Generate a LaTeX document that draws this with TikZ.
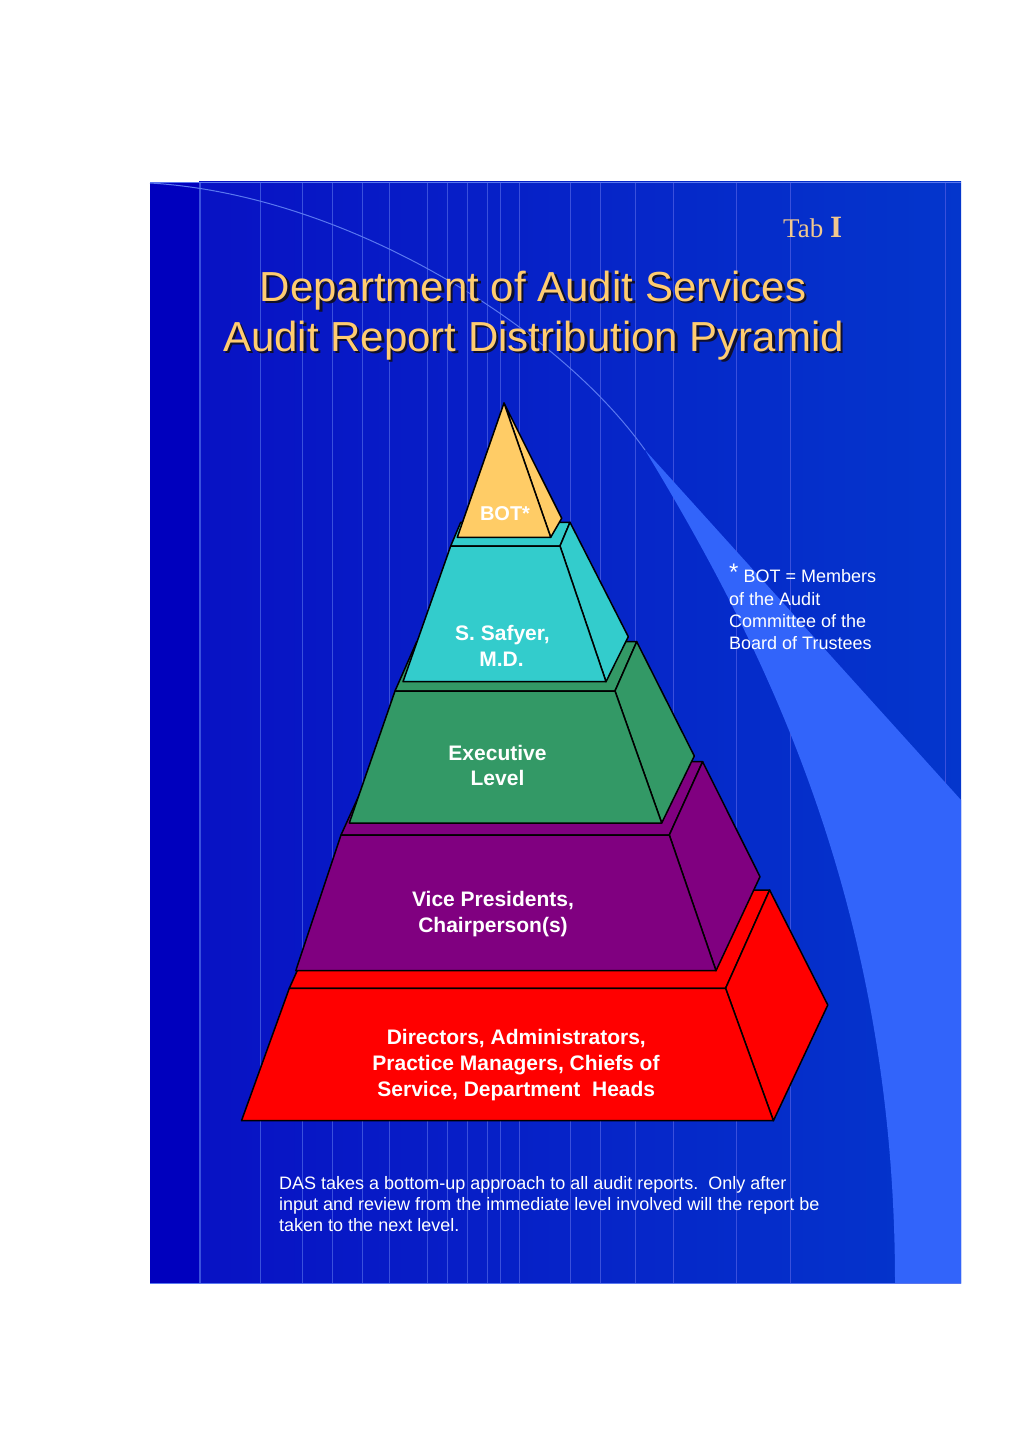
\documentclass[tikz,border=0pt]{standalone}
\usepackage{fontspec}
\setmainfont{Liberation Sans}
\newfontfamily\seriffont{Liberation Serif}
\definecolor{bgA}{HTML}{0812C4}
\definecolor{bgB}{HTML}{0436CC}
\definecolor{bgStrip}{HTML}{0000BE}
\definecolor{vl}{HTML}{3A50DC}
\definecolor{swc}{HTML}{3264FA}
\definecolor{swline}{HTML}{5A78F0}
\definecolor{titlec}{HTML}{FFCC70}
\definecolor{shadowc}{HTML}{10102C}
\definecolor{tabc}{HTML}{F2C88E}
\definecolor{orangec}{HTML}{FFCC66}
\definecolor{tealc}{HTML}{33CCCC}
\definecolor{greenc}{HTML}{339966}
\definecolor{purplec}{HTML}{800080}
\definecolor{redc}{HTML}{FF0000}
\tikzset{
  face/.style={draw=black, line width=1.5pt, line join=round},
  lbl/.style={text=white, font=\bfseries\fontsize{21}{25}\selectfont, anchor=base, inner sep=0pt},
  titletext/.style={font=\fontsize{42}{50}\selectfont, anchor=base, inner sep=0pt},
  note/.style={text=white, font=\fontsize{18}{21}\selectfont, anchor=base west, inner sep=0pt},
  vline/.style={draw=vl, line width=0.8pt}
}
\begin{document}
\begin{tikzpicture}[x=1pt,y=-1pt]
\useasboundingbox (0,0) rectangle (1024,1450);
\fill[white] (0,0) rectangle (1024,1450);
% background panel
\shade[left color=bgA, right color=bgB] (199,182) rectangle (961,1283);
\fill[bgStrip] (150,182) rectangle (199,1283);
\foreach \x in {260,302,332,362,389,427,447,467,487,500,519,570,600,635,673,736,790,945}
  \draw[vline] (\x,183) -- (\x,1283);
\draw[draw=vl, line width=2pt] (199.5,183) -- (199.5,1283);
% swoosh
\fill[swc] (645,450) -- (961,800) -- (961,1283) -- (895,1283)
  .. controls (895,900) and (760,640) .. (645,450) -- cycle;
\draw[swline, line width=1pt] (150,183) .. controls (350,195) and (560,330) .. (645,450);
\draw[swline, line width=1pt] (150,182.5) -- (961,182.5);
\draw[swline, line width=1pt] (150,1283) -- (961,1283);

% Tab I
\node[anchor=base west, inner sep=0pt, text=tabc, font=\seriffont\fontsize{27}{30}\selectfont] (tab) at (783,237) {Tab {\fontsize{31}{34}\selectfont\bfseries I}};

% title
\node[titletext, text=shadowc] (t1s) at (535.5,303.5) {Department of Audit Services};
\node[titletext, text=titlec] (t1) at (533,301) {Department of Audit Services};
\node[titletext, text=shadowc] (t2s) at (536,353.5) {Audit Report Distribution Pyramid};
\node[titletext, text=titlec] (t2) at (533.5,351) {Audit Report Distribution Pyramid};

% ---------- pyramid (bottom to top) ----------
% red
\filldraw[face, fill=redc] (289.3,988.3) -- (725.6,988.3) -- (769.6,890) -- (333.3,890) -- cycle;
\filldraw[face, fill=redc] (725.6,988.3) -- (769.6,890) -- (827.8,1005) -- (773.4,1120.7) -- cycle;
\filldraw[face, fill=redc] (289.3,988.3) -- (725.6,988.3) -- (773.4,1120.7) -- (241.5,1120.7) -- cycle;
% purple
\filldraw[face, fill=purplec] (341,835) -- (669.3,835) -- (702.6,761.7) -- (374.3,761.7) -- cycle;
\filldraw[face, fill=purplec] (669.3,835) -- (702.6,761.7) -- (760,876.7) -- (716,970.7) -- cycle;
\filldraw[face, fill=purplec] (341,835) -- (669.3,835) -- (716,970.7) -- (295.8,970.7) -- cycle;
% green
\filldraw[face, fill=greenc] (395,691) -- (615,691) -- (636.7,641.7) -- (416.7,641.7) -- cycle;
\filldraw[face, fill=greenc] (615,691) -- (636.7,641.7) -- (694.3,756) -- (661.7,823) -- cycle;
\filldraw[face, fill=greenc] (395,691) -- (615,691) -- (661.7,823) -- (349.3,823) -- cycle;
% teal
\filldraw[face, fill=tealc] (450.7,546) -- (560,546) -- (570,522.3) -- (460.7,522.3) -- cycle;
\filldraw[face, fill=tealc] (560,546) -- (570,522.3) -- (628.3,636.7) -- (606,681.7) -- cycle;
\filldraw[face, fill=tealc] (450.7,546) -- (560,546) -- (606,681.7) -- (403,681.7) -- cycle;
% orange
\filldraw[face, fill=orangec] (504,403) -- (561.7,518.3) -- (550.7,537.3) -- cycle;
\filldraw[face, fill=orangec] (504,403) -- (550.7,537.3) -- (457.3,537.3) -- cycle;

% labels
\node[lbl, font=\bfseries\fontsize{20}{24}\selectfont] (bot) at (505,520.7) {BOT*};
\node[lbl] (saf1) at (502.5,640) {S. Safyer,};
\node[lbl] (saf2) at (501.5,666) {M.D.};
\node[lbl] (exe1) at (497.5,760) {Executive};
\node[lbl] (exe2) at (497.5,785) {Level};
\node[lbl] (vp1) at (493,906.7) {Vice Presidents,};
\node[lbl] (vp2) at (493,932.7) {Chairperson(s)};
\node[lbl] (dir1) at (516.3,1044) {Directors, Administrators,};
\node[lbl] (dir2) at (516,1070.5) {Practice Managers, Chiefs of};
\node[lbl] (dir3) at (516.3,1096) {Service, Department~~Heads};

% footnote
\node[note] (fn1) at (729,582.3) {\raisebox{1.5pt}{\fontsize{24}{24}\selectfont *} BOT = Members};
\node[note] (fn2) at (729,605.6) {of the Audit};
\node[note] (fn3) at (729,627.3) {Committee of the};
\node[note] (fn4) at (729,649.3) {Board of Trustees};

% bottom text
\node[note] (p1) at (279,1189.3) {DAS takes a bottom-up approach to all audit reports.~~Only after};
\node[note] (p2) at (279,1210.7) {input and review from the immediate level involved will the report be};
\node[note] (p3) at (279,1231.9) {taken to the next level.};
\end{tikzpicture}
\end{document}
